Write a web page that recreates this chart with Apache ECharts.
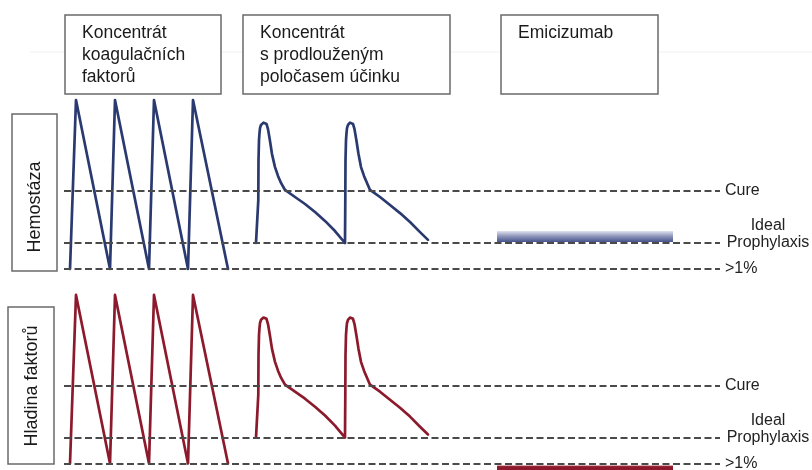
<!DOCTYPE html>
<html>
<head>
<meta charset="utf-8">
<script src="https://cdn.jsdelivr.net/npm/echarts@6/dist/echarts.min.js"></script>
<style>
html,body{margin:0;padding:0;background:#fff;}
#chart{width:812px;height:470px;}
</style>
</head>
<body>
<div id="chart"></div>
<script>
// ---- data ----
const panelTitles = ['Hemostáza', 'Hladina faktorů'];
const headerTitles = ['Koncentrát\nkoagulačních\nfaktorů', 'Koncentrát\ns prodlouženým\npoločasem účinku', 'Emicizumab'];
const refLevels = [3, 1, 0];
const refLabels = ['Cure', 'Ideal\nProphylaxis\n', '>1%'];

// standard factor concentrate (sawtooth)
const sawX = [6, 12, 46, 51, 85, 90, 124, 129, 164];
const sawY = [0, 6.5, 0, 6.5, 0, 6.5, 0, 6.5, 0];

// extended half-life concentrate
const ehlX = [192, 194, 194.3, 194.5, 195, 195.5, 196, 197, 198, 199.5, 201, 202.5, 204, 206, 208, 211, 214, 217, 221, 231, 241, 251, 261, 271, 281,
              281.3, 281.5, 282, 282.5, 283, 284, 285, 286, 287.5, 289, 290.5, 292.5, 294.5, 297, 300, 303, 306, 316, 326, 336, 346, 356, 364];
const ehlY = [1.0, 1.0, 2.65, 4.19, 4.96, 5.23, 5.42, 5.54, 5.6, 5.63, 5.63, 5.58, 5.38, 4.92, 4.42, 3.92, 3.58, 3.31, 3.04, 2.77, 2.5, 2.19, 1.85, 1.46, 1.0,
              2.65, 4.19, 4.96, 5.23, 5.42, 5.54, 5.6, 5.63, 5.63, 5.58, 5.38, 4.92, 4.42, 3.92, 3.58, 3.31, 3.04, 2.77, 2.46, 2.15, 1.81, 1.42, 1.12];

// emicizumab steady level band [xStart, xEnd], [yLow, yHigh] per panel
const emiX = [433, 609];
const emiYTop = [1.04, 1.46];
const emiYBottom = [-0.6, -0.08];

const lineColors = ['#2a3a70', '#8c1a2c'];
const barColors = [
  {type:'linear', x:0, y:0, x2:0, y2:1, colorStops:[{offset:0,color:'#dfe2ec'},{offset:0.45,color:'#9199bd'},{offset:1,color:'#46548b'}]},
  {type:'linear', x:0, y:0, x2:0, y2:1, colorStops:[{offset:0,color:'#b4525f'},{offset:0.25,color:'#8c1a2c'},{offset:1,color:'#8c1a2c'}]}
];
const emiYs = [emiYTop, emiYBottom];

const FONT = "'Liberation Sans', Arial, sans-serif";

const grids = [
  {left: 64, width: 656, top: 87, height: 188.5},
  {left: 64, width: 656, top: 282, height: 188.5}
];

const xAxes = grids.map((g, i) => ({gridIndex: i, type: 'value', min: 0, max: 656, show: false}));
const yAxes = grids.map((g, i) => ({gridIndex: i, type: 'value', min: -0.25, max: 7, show: false}));

const series = [];
for (let p = 0; p < 2; p++) {
  series.push({
    type: 'line', xAxisIndex: p, yAxisIndex: p,
    data: sawX.map((x, i) => [x, sawY[i]]),
    symbol: 'none', clip: false, z: 3,
    lineStyle: {color: lineColors[p], width: 2.7, join: 'round', cap: 'round'},
    markLine: {
      silent: true, symbol: ['none', 'none'], z: 4,
      lineStyle: {type: [7, 3.5], color: '#4a4a4a', width: 2.2},
      data: refLevels.map((lv, i) => {
        const isMulti = refLabels[i].indexOf('\n') >= 0;
        return [
          {coord: [0, lv]},
          {coord: [656, lv], label: isMulti ? {
            show: true, position: 'end', formatter: refLabels[i], align: 'center',
            distance: 48, lineHeight: 17,
            color: '#222', fontSize: 16, fontFamily: FONT
          } : {
            show: true, position: 'end', formatter: refLabels[i],
            distance: 5, color: '#222', fontSize: 16, fontFamily: FONT
          }}
        ];
      })
    },
    markArea: {
      silent: true, z: 2,
      data: [[
        {coord: [emiX[0], emiYs[p][1]], itemStyle: {color: barColors[p]}},
        {coord: [emiX[1], emiYs[p][0]]}
      ]]
    }
  });
  series.push({
    type: 'line', xAxisIndex: p, yAxisIndex: p,
    data: ehlX.map((x, i) => [x, ehlY[i]]),
    symbol: 'none', clip: false, z: 3,
    lineStyle: {color: lineColors[p], width: 2.7, join: 'round', cap: 'round'}
  });
}

const boxStroke = {stroke: '#6a6a6a', lineWidth: 1.5, fill: '#fff'};
const headerBoxes = [
  {x: 65, y: 15, w: 156, h: 79},
  {x: 243, y: 15, w: 207, h: 79},
  {x: 501, y: 15, w: 157, h: 79}
];
const sideBoxes = [
  {x: 12, y: 114, w: 45, h: 157, ty: 207},
  {x: 8, y: 307, w: 46, h: 157, ty: 386}
];

const graphic = [
  {type: 'line', shape: {x1: 30, y1: 52, x2: 812, y2: 52}, style: {stroke: '#f1f1f1', lineWidth: 1}, silent: true}
];
headerBoxes.forEach((b, i) => {
  graphic.push({type: 'rect', shape: {x: b.x, y: b.y, width: b.w, height: b.h}, style: boxStroke, silent: true, z: 10});
  graphic.push({type: 'text', x: b.x + 17, y: b.y + 7, z: 11, silent: true,
    style: {text: headerTitles[i], fill: '#1a1a1a', font: '17.5px ' + FONT, lineHeight: 22, verticalAlign: 'top', align: 'left'}});
});
sideBoxes.forEach((b, i) => {
  graphic.push({type: 'rect', shape: {x: b.x, y: b.y, width: b.w, height: b.h}, style: boxStroke, silent: true, z: 10});
  graphic.push({type: 'text', x: b.x + b.w / 2 + 1, y: b.ty, rotation: Math.PI / 2, z: 11, silent: true,
    style: {text: panelTitles[i], fill: '#1a1a1a', font: '18px ' + FONT, verticalAlign: 'middle', align: 'center'}});
});

const chart = echarts.init(document.getElementById('chart'), null, {renderer: 'canvas'});
chart.setOption({
  animation: false,
  backgroundColor: '#fff',
  grid: grids,
  xAxis: xAxes,
  yAxis: yAxes,
  series: series,
  graphic: graphic
});
</script>
</body>
</html>
